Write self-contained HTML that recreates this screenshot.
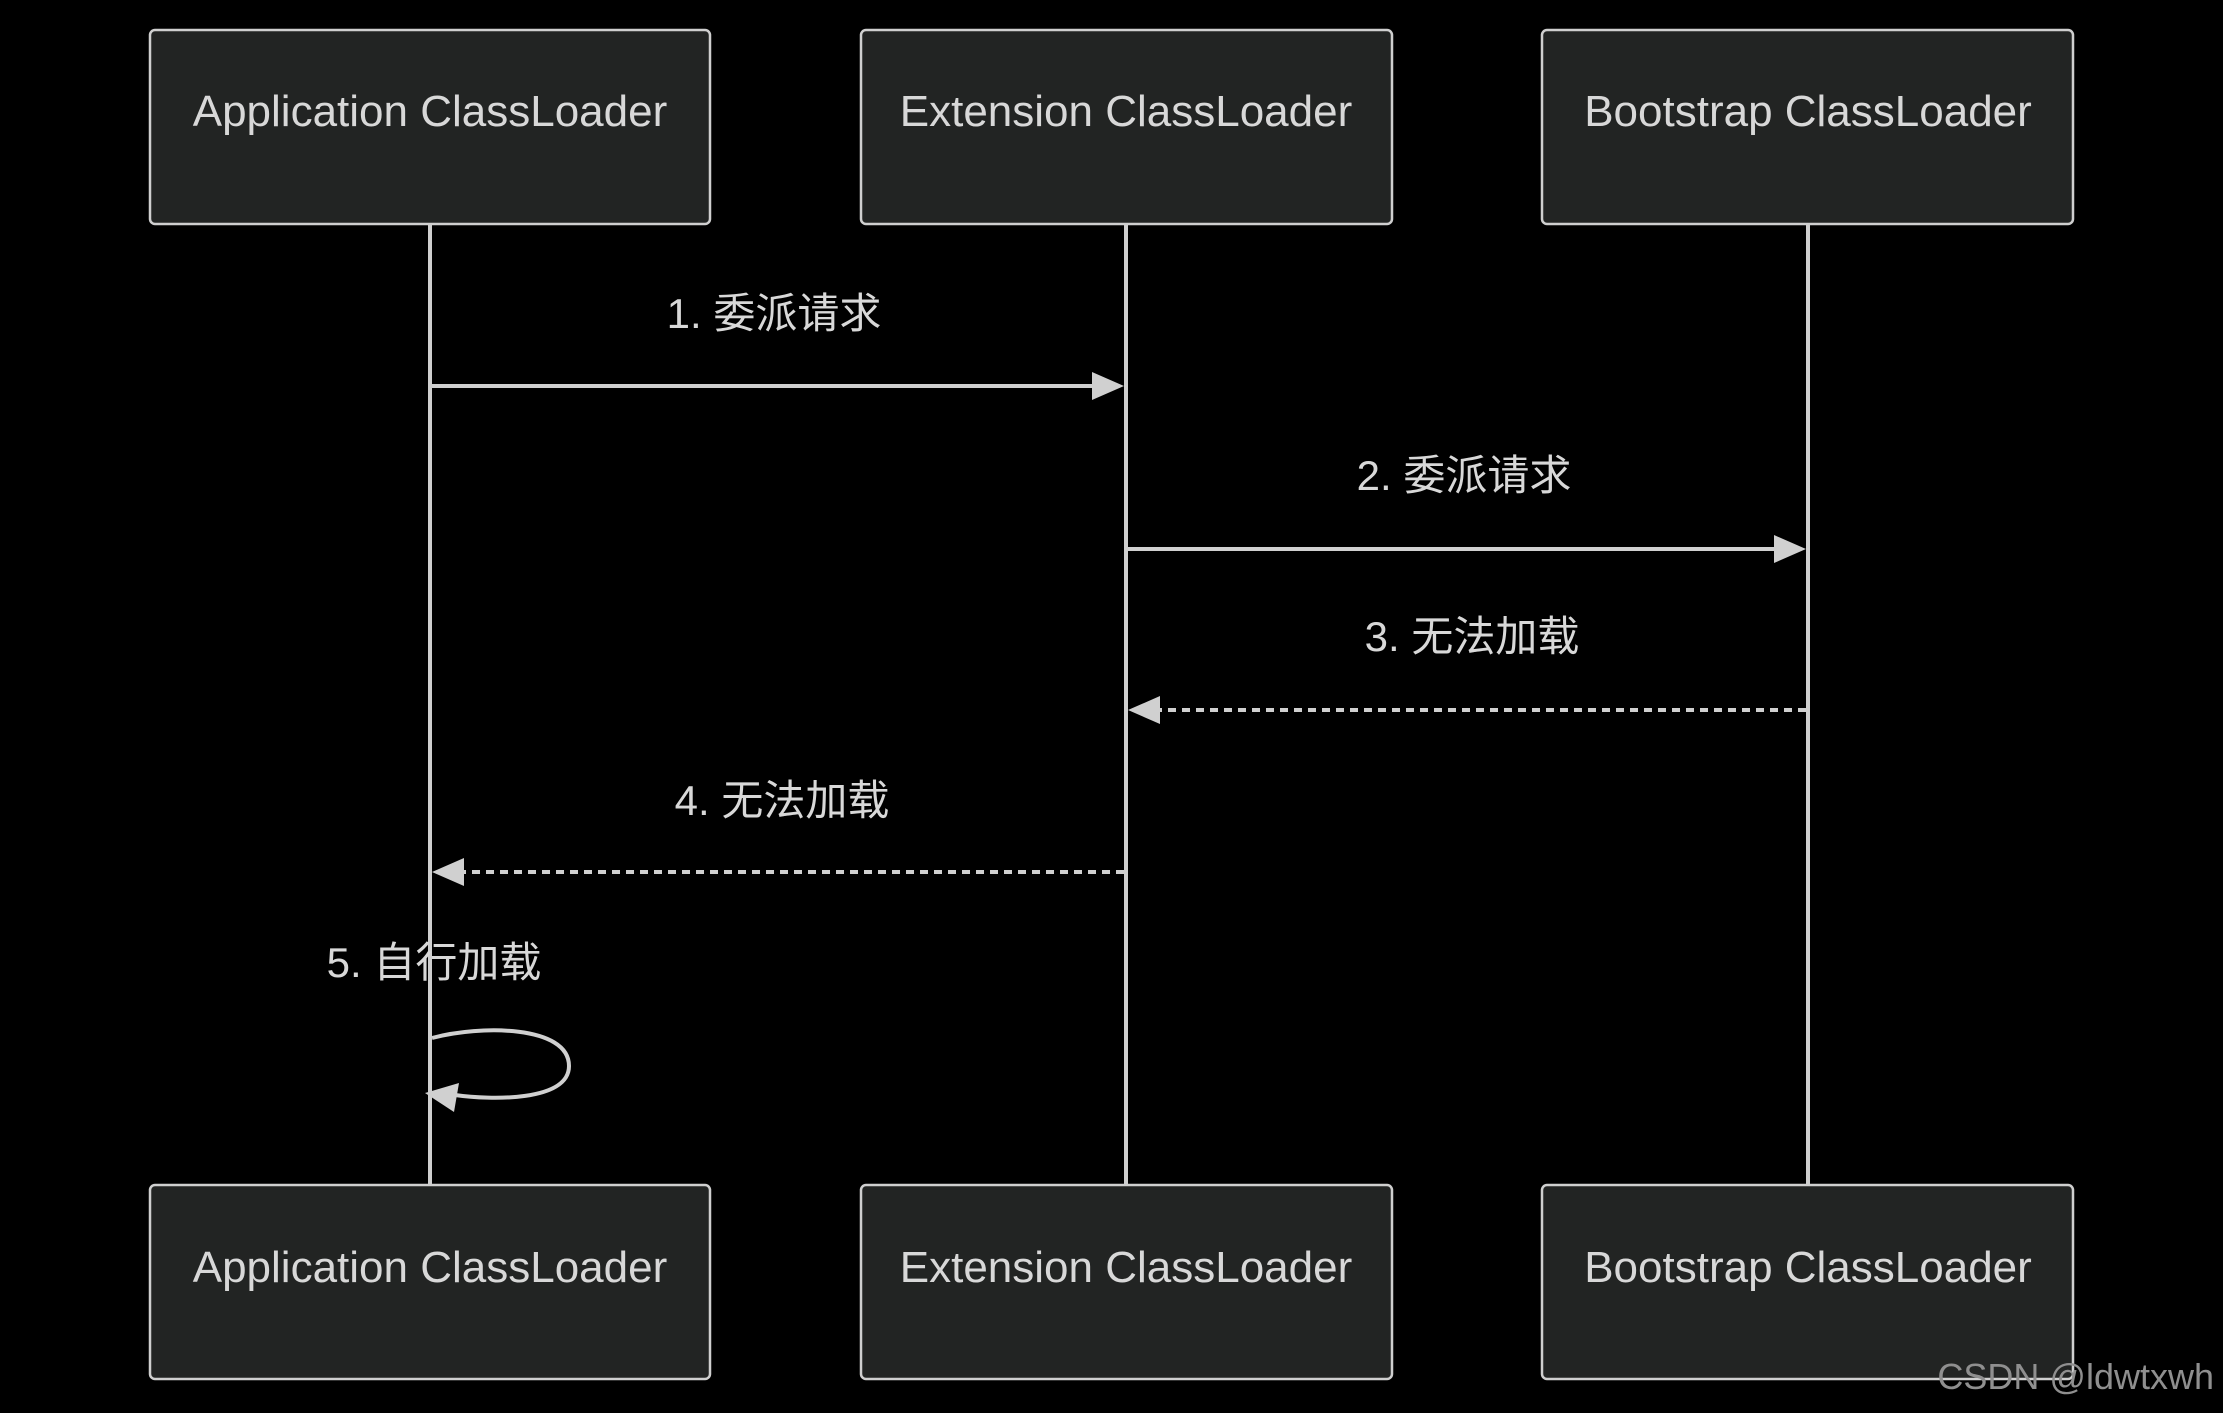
<!DOCTYPE html>
<html><head><meta charset="utf-8"><style>
html,body{margin:0;padding:0;background:#000;}
svg{display:block;}
text{font-family:"Liberation Sans","Noto Sans CJK SC",sans-serif;fill:#d8d8d8;}
</style></head><body>
<svg width="2223" height="1413" viewBox="0 0 2223 1413" xmlns="http://www.w3.org/2000/svg">
<rect width="2223" height="1413" fill="#000"/>
<g stroke="#cfcfcf" stroke-width="4" fill="none">
<line x1="430" y1="224" x2="430" y2="1185"/>
<line x1="1126" y1="224" x2="1126" y2="1185"/>
<line x1="1808" y1="224" x2="1808" y2="1185"/>
</g>
<g fill="#222423" stroke="#cfcfcf" stroke-width="2.5">
<rect x="150" y="30" width="560" height="194" rx="5"/>
<rect x="861" y="30" width="531" height="194" rx="5"/>
<rect x="1542" y="30" width="531" height="194" rx="5"/>
<rect x="150" y="1185" width="560" height="194" rx="5"/>
<rect x="861" y="1185" width="531" height="194" rx="5"/>
<rect x="1542" y="1185" width="531" height="194" rx="5"/>
</g>
<g font-size="44" text-anchor="middle">
<text x="430" y="126">Application ClassLoader</text>
<text x="1126" y="126">Extension ClassLoader</text>
<text x="1808" y="126">Bootstrap ClassLoader</text>
<text x="430" y="1282">Application ClassLoader</text>
<text x="1126" y="1282">Extension ClassLoader</text>
<text x="1808" y="1282">Bootstrap ClassLoader</text>
</g>
<g stroke="#d0d0d0" stroke-width="4" fill="none">
<line x1="432" y1="386" x2="1095" y2="386"/>
<line x1="1128" y1="549" x2="1777" y2="549"/>
<line x1="1806" y1="710" x2="1150" y2="710" stroke-dasharray="8,6"/>
<line x1="1124" y1="872" x2="454" y2="872" stroke-dasharray="8,6"/>
<path d="M432 1038 C 480 1025, 569 1025, 569 1066 C 569 1102, 490 1100, 455 1095"/>
</g>
<g fill="#d0d0d0">
<polygon points="1124,386 1092,372 1092,400"/>
<polygon points="1806,549 1774,535 1774,563"/>
<polygon points="1128,710 1160,696 1160,724"/>
<polygon points="432,872 464,858 464,886"/>
<polygon points="425,1093 459,1083 454,1112"/>
</g>
<g font-size="42" text-anchor="middle">
<text x="774" y="328">1. 委派请求</text>
<text x="1464" y="490">2. 委派请求</text>
<text x="1472" y="651">3. 无法加载</text>
<text x="782" y="815">4. 无法加载</text>
<text x="434" y="977">5. 自行加载</text>
</g>
<text x="2214" y="1389" font-size="36" text-anchor="end" fill="#8a8a8a" style="fill:#8f8f8f">CSDN @ldwtxwh</text>
</svg>
</body></html>
